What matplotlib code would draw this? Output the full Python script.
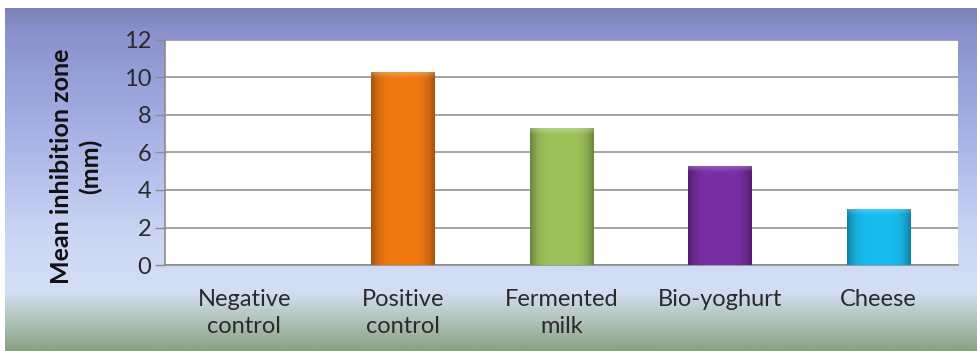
import numpy as np
import matplotlib.pyplot as plt
from matplotlib.colors import LinearSegmentedColormap, to_rgb

# Data
categories = ['Negative\ncontrol', 'Positive\ncontrol', 'Fermented\nmilk', 'Bio-yoghurt', 'Cheese']
zone_mm = [0.0, 10.3, 7.3, 5.3, 3.0]
bar_colors = ['#4F81BD', '#F07A10', '#9DC35A', '#7A2FA6', '#18BDEF']
y_ticks = [0, 2, 4, 6, 8, 10, 12]

plt.rcParams['font.family'] = ['Lato', 'DejaVu Sans']

fig = plt.figure(figsize=(9.78, 3.51), dpi=100)
fig.patch.set_facecolor('white')

# Background panel with the vertical blue -> green gradient
bg = fig.add_axes([5 / 978, 0, 1 - 5 / 978, 1 - 8 / 351], zorder=0)
bg_stops = [(0.00, '#7A82B2'), (0.06, '#8990CC'), (0.35, '#A6B0E4'),
            (0.68, '#CCD7F6'), (0.83, '#D3DEF4'), (0.91, '#B2C4BC'),
            (1.00, '#89A283')]
bg_cmap = LinearSegmentedColormap.from_list('bg', bg_stops)
grad = np.linspace(0, 1, 400).reshape(-1, 1)
bg.imshow(grad, cmap=bg_cmap, aspect='auto', extent=[0, 1, 0, 1], origin='upper')
bg.set_axis_off()

ax = fig.add_axes([165 / 978, 86 / 351, (958 - 165) / 978, (265 - 40) / 351], zorder=1)
ax.set_facecolor('white')

x = np.arange(len(categories))
bars = ax.bar(x, zone_mm, width=0.40, color=bar_colors, zorder=3, linewidth=0)

# Cylinder-style shading on each bar: darker sides, light bevel at the top
for patch, col in zip(bars, bar_colors):
    h = patch.get_height()
    if h <= 0:
        patch.set_visible(False)
        continue
    base = np.array(to_rgb(col))
    x0 = patch.get_x()
    w = patch.get_width()
    nx, ny = 60, 120
    u = np.linspace(-1, 1, nx)
    side = 1 - 0.32 * np.abs(u) ** 4
    img = np.ones((ny, nx, 3)) * base
    img *= side[None, :, None]
    # top bevel (a few pixels lighter)
    bevel_h = min(0.35 / h, 0.2)
    v = np.linspace(1, 0, ny)
    top = np.clip((v - (1 - bevel_h)) / bevel_h, 0, 1)
    img = img + (1 - img) * 0.25 * top[:, None, None]
    img = np.clip(img, 0, 1)
    im = ax.imshow(img, extent=[x0, x0 + w, 0, h], aspect='auto',
                   origin='upper', zorder=4, interpolation='bilinear')
    im.set_clip_path(patch)

ax.set_xlim(-0.5, len(categories) - 0.5)
ax.set_ylim(0, 12)
ax.set_yticks(y_ticks)
ax.set_yticklabels([str(t) for t in y_ticks], fontsize=17, color='#2A2A2A')
ax.set_xticks(x)
ax.set_xticklabels(categories, fontsize=17, color='#2A2A2A', linespacing=1.4)
ax.tick_params(axis='x', length=0, pad=17)
ax.tick_params(axis='y', length=7, width=1, color='#8C8C8C', pad=3)

ax.yaxis.grid(True, color='#9C9C9C', linewidth=1.3, zorder=1)
ax.set_axisbelow(True)
for side in ['top', 'right']:
    ax.spines[side].set_visible(False)
for side in ['left', 'bottom']:
    ax.spines[side].set_color('#8C8C8C')
    ax.spines[side].set_linewidth(1.2)

fig.text(76 / 978, 1 - 166 / 351, 'Mean inhibition zone\n(mm)', rotation=90,
         ha='center', va='center', fontsize=18, fontweight='bold',
         color='#111111', linespacing=1.25, multialignment='center')

fig.savefig('out.png', dpi=100)
